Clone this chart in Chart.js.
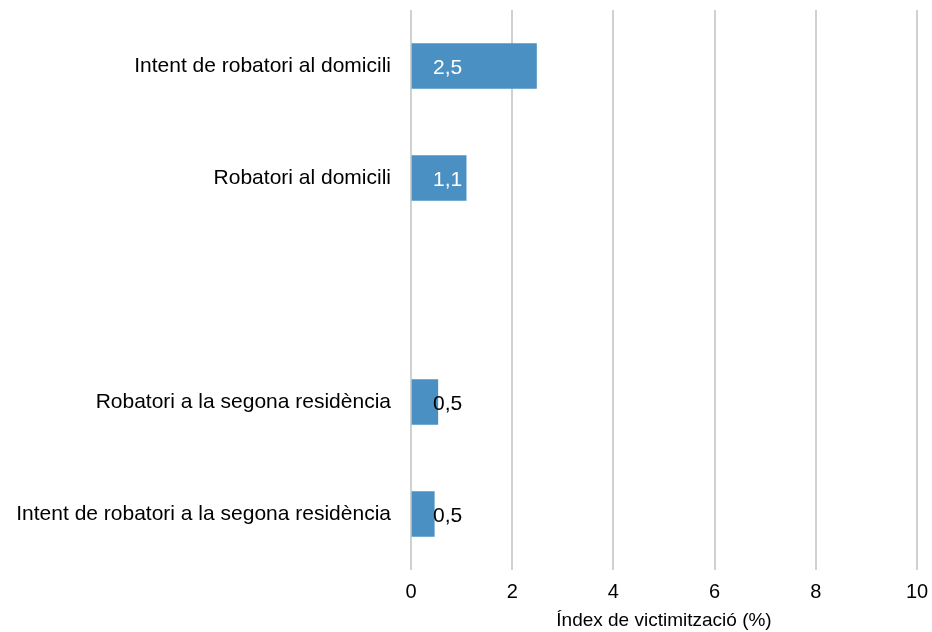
<!DOCTYPE html>
<html>
<head>
<meta charset="utf-8">
<script src="https://cdn.jsdelivr.net/npm/chart.js@4"></script>
<style>
  body { margin: 0; background: #fff; }
  #wrap { width: 932px; height: 632px; }
</style>
</head>
<body>
<div id="wrap"><canvas id="myChart"></canvas></div>
<script>
const categories = [
    'Intent de robatori al domicili',
    'Robatori al domicili',
    '',
    'Robatori a la segona residència',
    'Intent de robatori a la segona residència'
];
const values = [2.48, 1.09, null, 0.53, 0.46];
const xTicks = [0, 2, 4, 6, 8, 10];

const FONT = '"Liberation Sans", Arial, sans-serif';

// labels drawn at a fixed offset from the axis start, like the original
const valueLabels = {
    id: 'valueLabels',
    afterDatasetsDraw(chart) {
        const ctx = chart.ctx;
        const meta = chart.getDatasetMeta(0);
        const x0 = chart.scales.x.getPixelForValue(0);
        ctx.save();
        ctx.font = '21px ' + FONT;
        ctx.textBaseline = 'middle';
        ctx.textAlign = 'left';
        meta.data.forEach((bar, i) => {
            const v = values[i];
            if (v == null) return;
            const txt = v.toFixed(1).replace('.', ',');
            const tx = x0 + 22;
            const w = ctx.measureText(txt).width;
            ctx.fillStyle = (tx + w < bar.x) ? '#ffffff' : '#000000';
            ctx.fillText(txt, tx, bar.y + 2);
        });
        ctx.restore();
    }
};

const data = {
    labels: categories,
    datasets: [{
        data: values,
        backgroundColor: '#4a90c2',
        borderWidth: 0,
        barThickness: 45
    }]
};

const config = {
    type: 'bar',
    data: data,
    plugins: [valueLabels],
    options: {
        indexAxis: 'y',
        responsive: true,
        maintainAspectRatio: false,
        animation: false,
        layout: { padding: { top: 10, right: 15, left: 0, bottom: 0 } },
        plugins: {
            legend: { display: false },
            tooltip: { enabled: false }
        },
        scales: {
            x: {
                min: 0,
                max: 10,
                afterBuildTicks(scale) {
                    scale.ticks = xTicks.map(v => ({ value: v }));
                },
                afterFit(scale) {
                    scale.height = 62;
                    scale.paddingLeft = 0;
                    scale.paddingRight = 0;
                },
                grid: { color: '#d0d0d0', lineWidth: 2, drawTicks: false },
                border: { display: false },
                ticks: {
                    color: '#000',
                    padding: 10,
                    font: { family: FONT, size: 20 }
                },
                title: {
                    display: true,
                    text: 'Índex de victimització (%)',
                    color: '#000',
                    padding: { top: 2, bottom: 0 },
                    font: { family: FONT, size: 19 }
                }
            },
            y: {
                afterFit(scale) {
                    scale.width = 411;
                    scale.paddingTop = 0;
                    scale.paddingBottom = 0;
                },
                grid: { display: false, drawTicks: false },
                border: { display: false },
                ticks: {
                    color: '#000',
                    padding: 20,
                    font: { family: FONT, size: 21 }
                }
            }
        }
    }
};

const myChart = new Chart(document.getElementById('myChart'), config);
</script>
</body>
</html>
